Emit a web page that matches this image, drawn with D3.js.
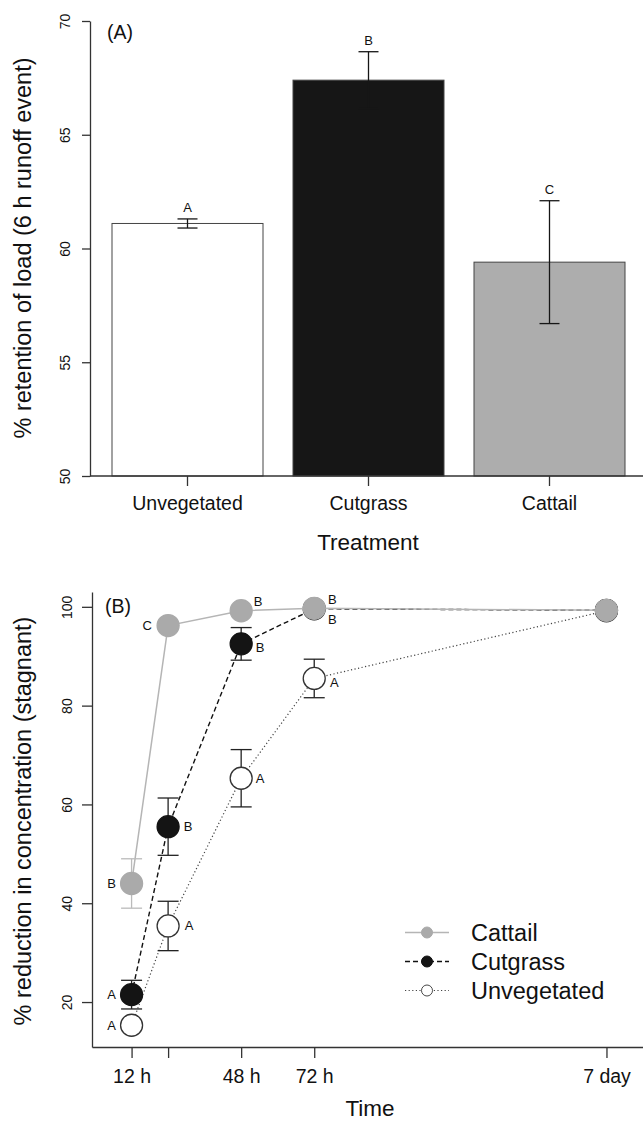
<html>
<head>
<meta charset="utf-8">
<script src="https://cdn.jsdelivr.net/npm/d3@7"></script>
<style>
  body { margin: 0; padding: 0; background: #fff; }
  svg text { font-family: "Liberation Sans", Arial, sans-serif; fill: #111; }
</style>
</head>
<body>
<div id="chart"></div>
<script>
// panel A data
const treatments = ["Unvegetated", "Cutgrass", "Cattail"];
const retention = [61.1, 67.4, 59.4];
const retentionSE = [0.2, 1.25, 2.7];
const retentionLetters = ["A", "B", "C"];
const retentionTicks = [50, 55, 60, 65, 70];

// panel B data
const hours = [12, 24, 48, 72, 168];
const hourLabels = ["12 h", "", "48 h", "72 h", "7 day"];
const reductionTicks = [20, 40, 60, 80, 100];
const seriesNames = ["Cattail", "Cutgrass", "Unvegetated"];
const cattail = [44.0, 96.2, 99.2, 99.7, 99.3];
const cattailSE = [5.0, 0, 0, 0, 0];
const cattailLetters = ["B", "C", "B", "B", ""];
const cutgrass = [21.5, 55.5, 92.5, 99.6, 99.3];
const cutgrassSE = [2.9, 5.8, 3.3, 0, 0];
const cutgrassLetters = ["A", "B", "B", "B", ""];
const unvegetated = [15.3, 35.4, 65.3, 85.5, 99.2];
const unvegetatedSE = [0, 5.0, 5.8, 3.9, 0];
const unvegetatedLetters = ["A", "A", "A", "A", ""];

const W = 643, H = 1123;
const axisColor = "#333";

const svg = d3.select("#chart").append("svg")
    .attr("width", W).attr("height", H);

// ---------- panel A ----------
const yA = d3.scaleLinear().domain([50, 70]).range([476, 21]);
const xA = d3.scaleBand().domain(treatments).range([97, 640])
    .paddingInner(30 / 181).paddingOuter(15 / 181);
const barFill = { Unvegetated: "#ffffff", Cutgrass: "#161616", Cattail: "#adadad" };

const gA = svg.append("g");

gA.selectAll("rect.bar")
    .data(treatments)
    .enter().append("rect")
    .attr("class", "bar")
    .attr("x", d => xA(d))
    .attr("y", (d, i) => yA(retention[i]))
    .attr("width", xA.bandwidth())
    .attr("height", (d, i) => yA(50) - yA(retention[i]))
    .attr("fill", d => barFill[d])
    .attr("stroke", "#444")
    .attr("stroke-width", 1);

// error bars
treatments.forEach((t, i) => {
    const cx = xA(t) + xA.bandwidth() / 2;
    const hi = yA(retention[i] + retentionSE[i]);
    const lo = yA(retention[i] - retentionSE[i]);
    const g = gA.append("g").attr("stroke", "#161616").attr("stroke-width", 1.3);
    g.append("line").attr("x1", cx).attr("x2", cx).attr("y1", hi).attr("y2", lo);
    g.append("line").attr("x1", cx - 10).attr("x2", cx + 10).attr("y1", hi).attr("y2", hi);
    g.append("line").attr("x1", cx - 10).attr("x2", cx + 10).attr("y1", lo).attr("y2", lo);
    gA.append("text")
        .attr("x", cx).attr("y", hi - 11)
        .attr("text-anchor", "middle").attr("dominant-baseline", "central")
        .attr("font-size", 13)
        .text(retentionLetters[i]);
});

// y axis A
const axA = gA.append("g").attr("transform", "translate(90,0)")
    .call(d3.axisLeft(yA).tickValues(retentionTicks).tickSize(8).tickSizeOuter(0));
axA.selectAll("text")
    .attr("transform", "rotate(-90)")
    .attr("x", 0).attr("y", -20).attr("dy", 0)
    .attr("text-anchor", "middle")
    .attr("font-size", 14);

// x axis A
const axAx = gA.append("g").attr("transform", "translate(0,476)")
    .call(d3.axisBottom(xA).tickSize(10).tickSizeOuter(0));
axAx.select(".domain").remove();
axAx.append("line").attr("x1", 90).attr("x2", W).attr("y1", 0).attr("y2", 0)
    .attr("stroke", axisColor).attr("stroke-width", 1.3);
axAx.selectAll("text").attr("y", 34).attr("dy", 0).attr("font-size", 19.5);

[axA, axAx].forEach(a => {
    a.selectAll("path, line").attr("stroke", axisColor).attr("stroke-width", 1.3);
});

gA.append("text").attr("x", 107).attr("y", 39).attr("font-size", 19.5).text("(A)");
gA.append("text").attr("x", 368).attr("y", 550)
    .attr("text-anchor", "middle").attr("font-size", 22.5).text("Treatment");
gA.append("text")
    .attr("transform", "translate(31,248) rotate(-90)")
    .attr("text-anchor", "middle").attr("font-size", 23.5)
    .text("% retention of load (6 h runoff event)");

// ---------- panel B ----------
const xB = d3.scaleLinear().domain([-1, 180]).range([92, 643]);
const yB = d3.scaleLinear().domain([10.9, 103]).range([1047, 592]);

const gB = svg.append("g");

const axB = gB.append("g").attr("transform", "translate(92,0)")
    .call(d3.axisLeft(yB).tickValues(reductionTicks).tickSize(10).tickSizeOuter(0));
axB.selectAll("text")
    .attr("transform", "rotate(-90)")
    .attr("x", 0).attr("y", -20).attr("dy", 0)
    .attr("text-anchor", "middle")
    .attr("font-size", 14);

const axBx = gB.append("g").attr("transform", "translate(0,1047)")
    .call(d3.axisBottom(xB).tickValues(hours)
        .tickFormat((d, i) => hourLabels[i]).tickSize(11).tickSizeOuter(0));
axBx.selectAll("text").attr("y", 36).attr("dy", 0).attr("font-size", 19.5);

[axB, axBx].forEach(a => {
    a.selectAll("path, line").attr("stroke", axisColor).attr("stroke-width", 1.3);
});

gB.append("text").attr("x", 105).attr("y", 613).attr("font-size", 19.5).text("(B)");
gB.append("text").attr("x", 370).attr("y", 1116)
    .attr("text-anchor", "middle").attr("font-size", 22.5).text("Time");
gB.append("text")
    .attr("transform", "translate(31,821) rotate(-90)")
    .attr("text-anchor", "middle").attr("font-size", 23.5)
    .text("% reduction in concentration (stagnant)");

// series styles; letter offsets (dx, dy) per time point
const series = [
    { name: "Unvegetated", values: unvegetated, se: unvegetatedSE, letters: unvegetatedLetters,
      line: "#444", lineWidth: 1.2, dash: "1.2,2.4", fill: "#fff", stroke: "#333", err: "#222",
      offs: [[-20, 0], [21, 0], [19, 0], [20, 4], [0, 0]] },
    { name: "Cutgrass", values: cutgrass, se: cutgrassSE, letters: cutgrassLetters,
      line: "#111", lineWidth: 1.4, dash: "5,3", fill: "#141414", stroke: "#141414", err: "#222",
      offs: [[-20, 0], [20, 0], [19, 4], [18, 11], [0, 0]] },
    { name: "Cattail", values: cattail, se: cattailSE, letters: cattailLetters,
      line: "#b5b5b5", lineWidth: 1.5, dash: null, fill: "#aaaaaa", stroke: "#aaaaaa", err: "#bbbbbb",
      offs: [[-20, 0], [-21, 0], [17, -9], [18, -9], [0, 0]] }
];

const line = d3.line().x((d, i) => xB(hours[i])).y(d => yB(d));

series.forEach(s => {
    const g = gB.append("g");
    g.append("path")
        .attr("d", line(s.values))
        .attr("fill", "none")
        .attr("stroke", s.line)
        .attr("stroke-width", s.lineWidth)
        .attr("stroke-dasharray", s.dash);
    s.values.forEach((v, i) => {
        if (s.se[i] > 0) {
            const cx = xB(hours[i]);
            const hi = yB(v + s.se[i]), lo = yB(v - s.se[i]);
            const e = g.append("g").attr("stroke", s.err).attr("stroke-width", 1.3);
            e.append("line").attr("x1", cx).attr("x2", cx).attr("y1", hi).attr("y2", lo);
            e.append("line").attr("x1", cx - 10.5).attr("x2", cx + 10.5).attr("y1", hi).attr("y2", hi);
            e.append("line").attr("x1", cx - 10.5).attr("x2", cx + 10.5).attr("y1", lo).attr("y2", lo);
        }
    });
    g.selectAll("circle")
        .data(s.values)
        .enter().append("circle")
        .attr("cx", (d, i) => xB(hours[i]))
        .attr("cy", d => yB(d))
        .attr("r", 11)
        .attr("fill", s.fill)
        .attr("stroke", s.stroke)
        .attr("stroke-width", 1.3);
    g.selectAll("text.letter")
        .data(s.values)
        .enter().append("text")
        .attr("class", "letter")
        .attr("x", (d, i) => xB(hours[i]) + s.offs[i][0])
        .attr("y", (d, i) => yB(d) + s.offs[i][1])
        .attr("text-anchor", "middle").attr("dominant-baseline", "central")
        .attr("font-size", 13)
        .text((d, i) => s.letters[i]);
});

// legend
const legend = gB.append("g").attr("transform", "translate(405,932.5)");
seriesNames.forEach((name, i) => {
    const s = series.find(q => q.name === name);
    const row = legend.append("g").attr("transform", `translate(0,${i * 29})`);
    row.append("line").attr("x1", 0).attr("x2", 44).attr("y1", 0).attr("y2", 0)
        .attr("stroke", s.line).attr("stroke-width", s.lineWidth)
        .attr("stroke-dasharray", s.dash);
    row.append("circle").attr("cx", 22).attr("cy", 0).attr("r", 5.5)
        .attr("fill", s.fill).attr("stroke", s.stroke)
        .attr("stroke-width", name === "Unvegetated" ? 0.9 : 1);
    row.append("text").attr("x", 66).attr("y", 0)
        .attr("dominant-baseline", "central").attr("font-size", 23.5)
        .text(name);
});
</script>
</body>
</html>
